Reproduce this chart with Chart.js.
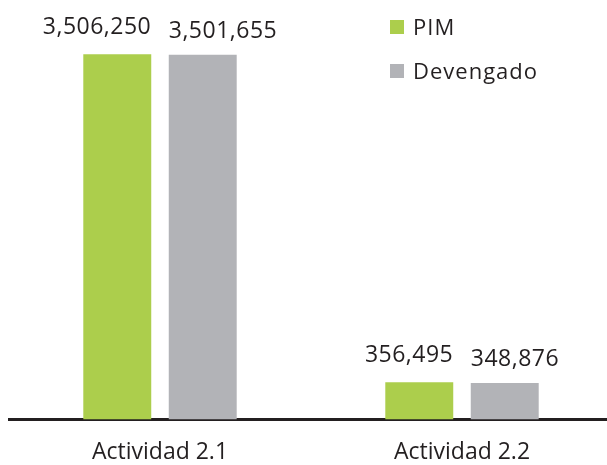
<!DOCTYPE html>
<html>
<head>
<meta charset="utf-8">
<script src="https://cdn.jsdelivr.net/npm/chart.js@4/dist/chart.umd.min.js"></script>
<style>
  html, body { margin: 0; padding: 0; background: #ffffff; overflow: hidden; }
  #wrap { position: absolute; left: 0; top: 0; width: 613px; height: 465px; }
</style>
</head>
<body>
<div id="wrap"><canvas id="c" width="613" height="465"></canvas></div>
<script>
const categories = ["Actividad 2.1", "Actividad 2.2"];
const seriesNames = ["PIM", "Devengado"];
const pimValues = [3506250, 356495];
const devengadoValues = [3501655, 348876];

const GREEN = "#acce4c";
const GRAY = "#b2b3b7";
const TEXT = "#231f20";
const FONT = "'Open Sans', 'DejaVu Sans', sans-serif";

const fmt = v => v.toLocaleString("en-US");

const labelPlugin = {
  id: "valueLabels",
  afterDatasetsDraw(chart) {
    const ctx = chart.ctx;
    ctx.save();
    ctx.fillStyle = TEXT;
    ctx.font = "23px " + FONT;
    try { ctx.letterSpacing = "0.5px"; } catch (e) {}
    ctx.textBaseline = "alphabetic";
    chart.data.datasets.forEach((ds, di) => {
      const meta = chart.getDatasetMeta(di);
      meta.data.forEach((bar, i) => {
        const w = bar.width;
        const text = fmt(ds.data[i]);
        if (di === 0) {
          ctx.textAlign = "right";
          ctx.fillText(text, bar.x + w / 2, bar.y - 20);
        } else {
          ctx.textAlign = "left";
          ctx.fillText(text, bar.x - w / 2, bar.y - 17);
        }
      });
    });
    ctx.restore();
  }
};

const legendPlugin = {
  id: "customLegend",
  afterDraw(chart) {
    const ctx = chart.ctx;
    ctx.save();
    ctx.font = "22px " + FONT;
    try { ctx.letterSpacing = "1px"; } catch (e) {}
    ctx.textAlign = "left";
    ctx.textBaseline = "alphabetic";
    const items = [
      { name: seriesNames[0], color: GREEN, y: 20 },
      { name: seriesNames[1], color: GRAY, y: 64 }
    ];
    items.forEach(it => {
      ctx.fillStyle = it.color;
      ctx.fillRect(390, it.y, 14, 14);
      ctx.fillStyle = TEXT;
      ctx.fillText(it.name, 413, it.y + 15);
    });
    ctx.restore();
  }
};

new Chart(document.getElementById("c"), {
  type: "bar",
  data: {
    labels: categories,
    datasets: [
      { label: seriesNames[0], data: pimValues, backgroundColor: GREEN, borderWidth: 0 },
      { label: seriesNames[1], data: devengadoValues, backgroundColor: GRAY, borderWidth: 0 }
    ]
  },
  options: {
    responsive: false,
    animation: false,
    devicePixelRatio: 1,
    layout: { padding: { left: 9, right: 0, top: 10, bottom: -20 } },
    categoryPercentage: 0.566,
    barPercentage: 0.795,
    plugins: {
      legend: { display: false },
      tooltip: { enabled: false }
    },
    scales: {
      x: {
        grid: { display: false, drawTicks: false },
        border: { display: true, color: "#231f20", width: 3 },
        ticks: { color: TEXT, font: { family: FONT, size: 23 }, padding: 19 }
      },
      y: {
        display: false,
        min: 0,
        max: 3931000
      }
    }
  },
  plugins: [labelPlugin, legendPlugin]
});
</script>
</body>
</html>
